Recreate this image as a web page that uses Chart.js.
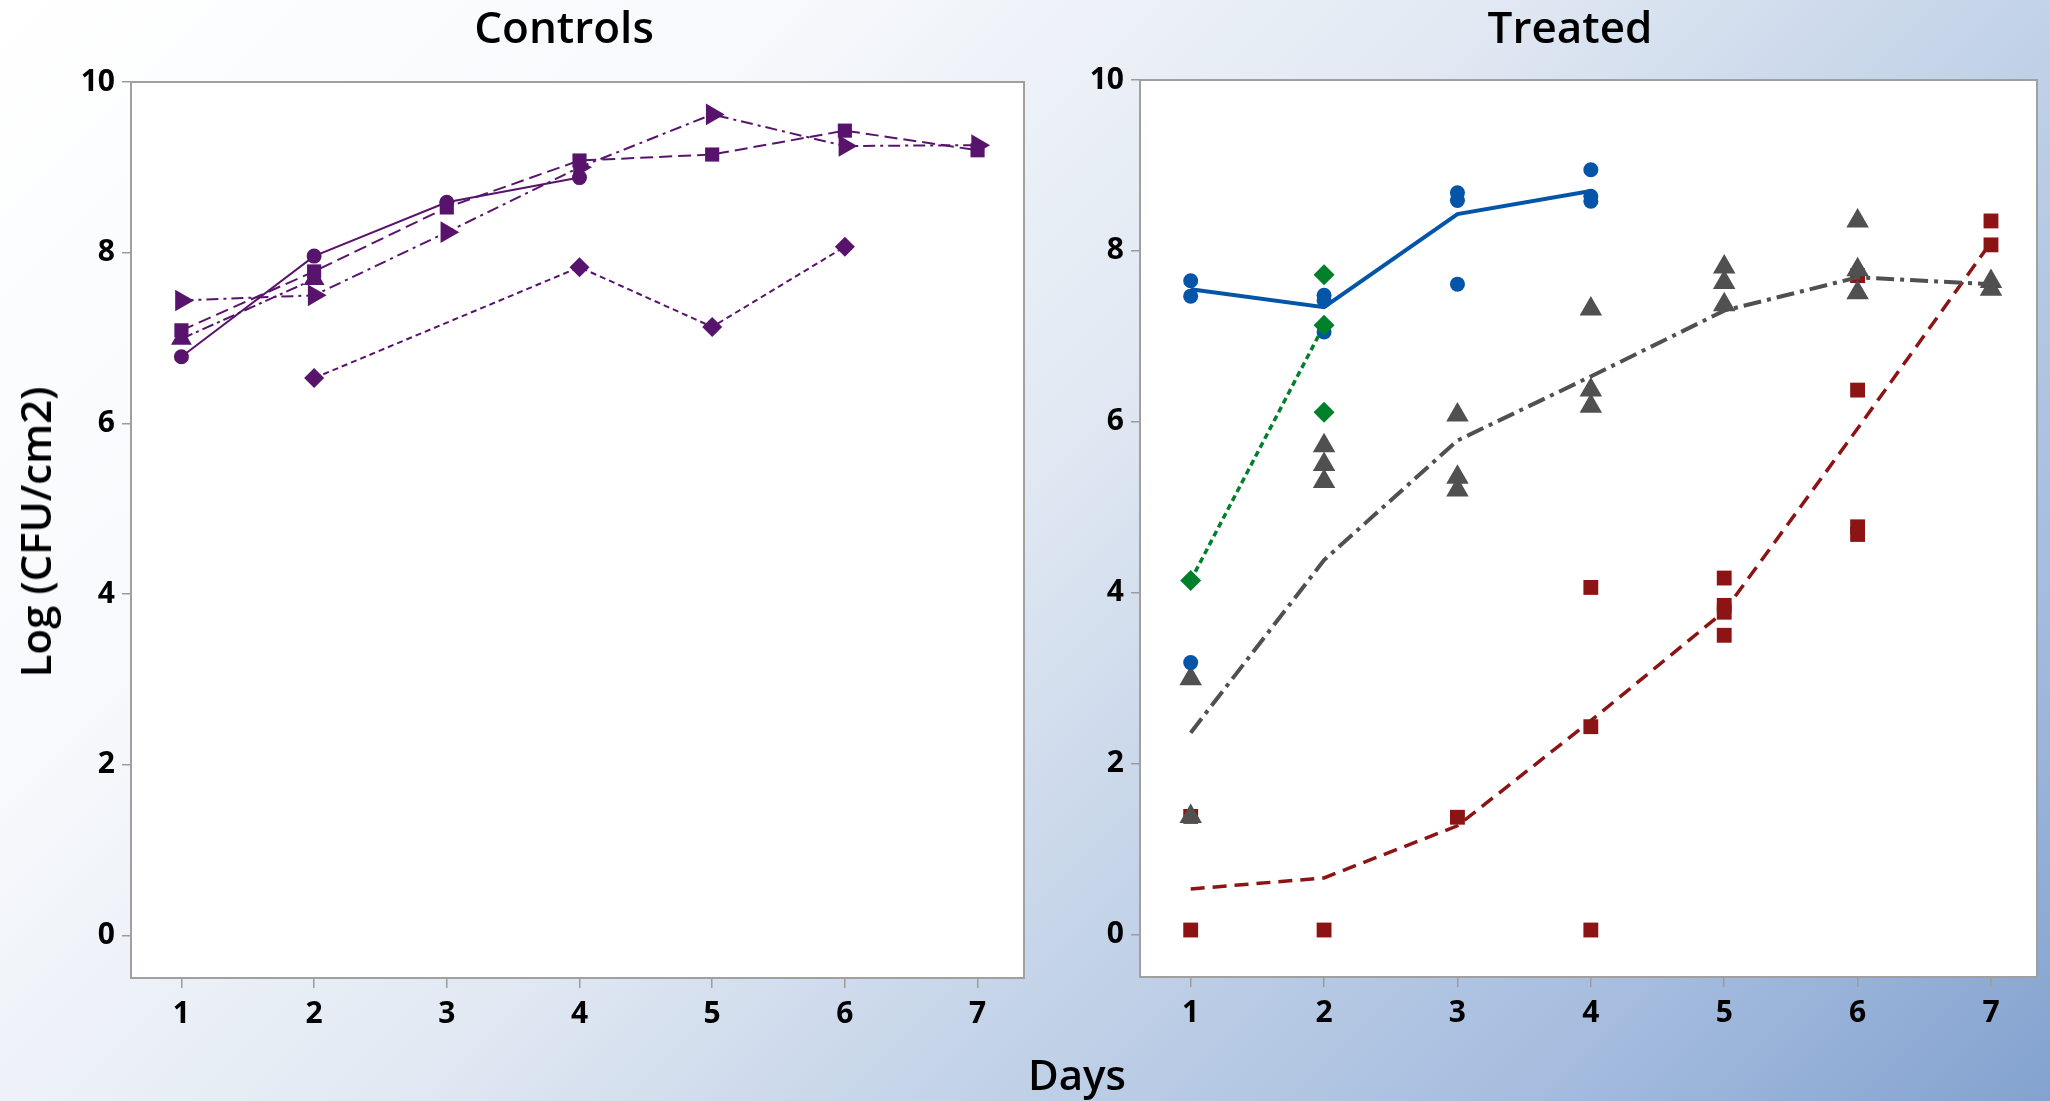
<!DOCTYPE html>
<html>
<head>
<meta charset="utf-8">
<script src="https://cdn.jsdelivr.net/npm/chart.js@4.4.1/dist/chart.umd.min.js"></script>
<style>
html,body{margin:0;padding:0;width:2050px;height:1101px;overflow:hidden;}
body{position:relative;font-family:'Open Sans',sans-serif;
 background:linear-gradient(135deg,#ffffff 0%,#f7f9fc 25%,#e2e9f3 47%,#c6d5e9 63%,#a6bddf 83%,#83a2cf 100%);}
canvas{position:absolute;top:0;}
.t{position:absolute;color:#000;white-space:nowrap;line-height:1;}
#tc,#tt{font-size:44px;font-weight:600;top:4px;transform:translateX(-50%);}
#tc{left:564px;}
#tt{left:1570px;}
#days{font-size:42px;font-weight:600;left:1077px;top:1053px;transform:translateX(-50%);}
#ylab{font-size:42px;font-weight:600;left:35px;top:532px;transform:translate(-50%,-50%) rotate(-90deg);}
</style>
</head>
<body>
<canvas id="c1" width="1080" height="1101" style="left:0px"></canvas>
<canvas id="c2" width="970" height="1101" style="left:1080px"></canvas>
<div class="t" id="tc">Controls</div>
<div class="t" id="tt">Treated</div>
<div class="t" id="days">Days</div>
<div class="t" id="ylab">Log (CFU/cm2)</div>
<script>
// ---- categories & ticks ----
const days = [1, 2, 3, 4, 5, 6, 7];
const xTicks = [1, 2, 3, 4, 5, 6, 7];
const yTicks = [0, 2, 4, 6, 8, 10];

// ---- Controls (one value per day, null = no measurement) ----
const ctrlCircle   = [6.78, 7.96, 8.59, 8.88, null, null, null];
const ctrlSquare   = [7.09, 7.78, 8.53, 9.08, 9.15, 9.43, 9.20];
const ctrlTriUp    = [6.99, 7.69, null, null, null, null, null];
const ctrlTriRight = [7.44, 7.50, 8.24, 9.00, 9.62, 9.25, 9.26];
const ctrlDiamond  = [null, 6.53, null, 7.83, 7.13, 8.07, null];

// ---- Treated: individual observations per day ----
const blueObs  = [[7.65, 7.47, 3.18], [7.48, 7.42, 7.05], [8.68, 8.59, 7.61], [8.95, 8.64, 8.58], [], [], []];
const greenObs = [[4.14], [7.72, 7.13, 6.11], [], [], [], [], []];
const grayObs  = [[2.99, 1.38], [5.72, 5.50, 5.30], [6.08, 5.35, 5.20], [7.32, 6.37, 6.18], [7.81, 7.63, 7.37], [8.35, 7.78, 7.51], [7.64, 7.55]];
const redObs   = [[0.05, 1.38], [0.05], [1.37], [4.06, 2.43, 0.05], [4.17, 3.85, 3.77, 3.50], [7.71, 6.37, 4.77, 4.68], [8.35, 8.07]];

// ---- Treated: fitted lines ----
const blueFit  = [7.55, 7.34, 8.43, 8.70, null, null, null];
const greenFit = [4.14, 7.13, null, null, null, null, null];
const grayFit  = [2.36, 4.38, 5.78, 6.53, 7.30, 7.69, 7.61];
const redFit   = [0.53, 0.66, 1.27, 2.50, 3.78, 5.92, 8.10];

const PURPLE = '#58146c', BLUE = '#0455a8', GREEN = '#00802a', GRAY = '#505050', RED = '#8c1414';

function series(vals) {
  const out = [];
  vals.forEach((v, i) => { if (v !== null) out.push({x: days[i], y: v}); });
  return out;
}
function obs(groups) {
  const out = [];
  groups.forEach((g, i) => g.forEach(v => out.push({x: days[i], y: v})));
  return out;
}

const framePlugin = {
  id: 'frame',
  beforeDraw(chart) {
    const a = chart.chartArea, ctx = chart.ctx;
    ctx.save();
    ctx.fillStyle = '#ffffff';
    ctx.fillRect(a.left, a.top, a.right - a.left, a.bottom - a.top);
    ctx.restore();
  },
  beforeDatasetsDraw(chart) {
    const a = chart.chartArea, ctx = chart.ctx;
    ctx.save();
    ctx.strokeStyle = '#a0a0a0';
    ctx.lineWidth = 2;
    ctx.strokeRect(a.left, a.top, a.right - a.left, a.bottom - a.top);
    ctx.restore();
  }
};

const tickFont = {family: "'Open Sans', sans-serif", size: 30, weight: '700'};

function makeOptions(g) {
  return {
    responsive: false,
    animation: false,
    events: [],
    layout: {padding: {left: 0, top: g.top, right: g.right, bottom: g.bottom}},
    plugins: {legend: {display: false}, tooltip: {enabled: false}, title: {display: false}},
    scales: {
      x: {
        type: 'linear', min: g.xmin, max: g.xmax,
        afterBuildTicks: s => { s.ticks = xTicks.map(v => ({value: v})); },
        afterFit: s => { s.height = g.xh; },
        grid: {display: true, drawOnChartArea: false, drawTicks: true, tickLength: 10, color: '#9c9c9c', lineWidth: 1.5},
        border: {display: false},
        ticks: {font: tickFont, color: '#000', padding: 8, maxRotation: 0, autoSkip: false}
      },
      y: {
        type: 'linear', min: -0.5, max: 10,
        afterBuildTicks: s => { s.ticks = yTicks.map(v => ({value: v})); },
        afterFit: s => { s.width = g.yw; },
        grid: {display: true, drawOnChartArea: false, drawTicks: true, tickLength: 9, color: '#9c9c9c', lineWidth: 1.5},
        border: {display: false},
        ticks: {font: tickFont, color: '#000', padding: 7, autoSkip: false}
      }
    }
  };
}

function lineDs(vals, style, dash, width) {
  return {
    data: series(vals), borderColor: PURPLE, backgroundColor: PURPLE,
    borderWidth: width, borderDash: dash, tension: 0, showLine: true,
    pointStyle: style.ps, pointRadius: style.r, pointRotation: style.rot || 0,
    pointBackgroundColor: PURPLE, pointBorderWidth: 0, pointHoverRadius: style.r
  };
}

new Chart(document.getElementById('c1'), {
  type: 'line',
  data: {
    datasets: [
      lineDs(ctrlCircle,   {ps: 'circle', r: 7.5}, [], 2),
      lineDs(ctrlSquare,   {ps: 'rect', r: 10}, [13, 6], 2),
      lineDs(ctrlTriUp,    {ps: 'triangle', r: 12}, [12, 4, 3, 4], 2),
      lineDs(ctrlTriRight, {ps: 'triangle', r: 12.5, rot: 90}, [12, 5, 3, 5], 2),
      lineDs(ctrlDiamond,  {ps: 'rectRot', r: 10}, [6, 4], 2)
    ]
  },
  options: makeOptions({top: 82, right: 56, bottom: 53, xh: 70, yw: 131, xmin: 0.62, xmax: 7.35}),
  plugins: [framePlugin]
});

function pointDs(groups, color, ps, r) {
  return {
    data: obs(groups), showLine: false, borderColor: color, backgroundColor: color,
    pointStyle: ps, pointRadius: r, pointBackgroundColor: color, pointBorderWidth: 0, pointHoverRadius: r
  };
}
function fitDs(vals, color, dash, width) {
  return {
    data: series(vals), showLine: true, borderColor: color, borderWidth: width, borderDash: dash,
    tension: 0, pointRadius: 0, pointHoverRadius: 0, fill: false
  };
}

new Chart(document.getElementById('c2'), {
  type: 'line',
  data: {
    datasets: [
      fitDs(greenFit, GREEN, [6, 4], 3.5),
      pointDs(greenObs, GREEN, 'rectRot', 10.5),
      fitDs(blueFit, BLUE, [], 4),
      pointDs(blueObs, BLUE, 'circle', 7.5),
      fitDs(grayFit, GRAY, [18, 6, 4, 6], 4),
      pointDs(grayObs, GRAY, 'triangle', 13),
      fitDs(redFit, RED, [14, 8], 3.5),
      pointDs(redObs, RED, 'rect', 10.5)
    ]
  },
  options: makeOptions({top: 80, right: 10, bottom: 54, xh: 70, yw: 60, xmin: 0.62, xmax: 7.345}),
  plugins: [framePlugin]
});
</script>
</body>
</html>
